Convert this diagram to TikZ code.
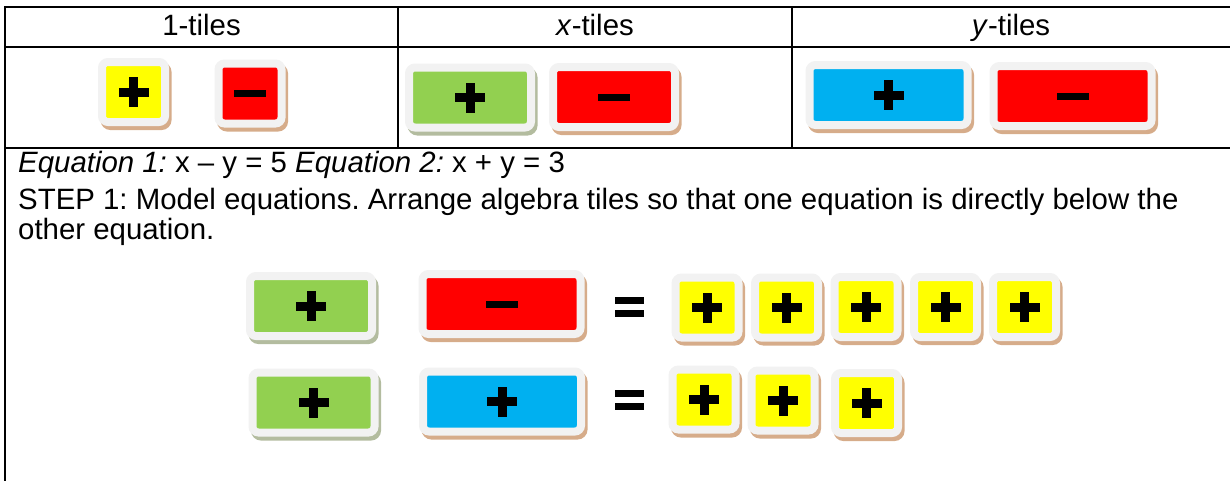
\documentclass[tikz,border=0pt]{standalone}
\usepackage{fontspec}
\setmainfont{Liberation Sans}
\usetikzlibrary{shadows}
\definecolor{tileyellow}{HTML}{FFFF00}
\definecolor{tilered}{HTML}{FF0000}
\definecolor{tilegreen}{HTML}{92D050}
\definecolor{tileblue}{HTML}{00B0F0}
\definecolor{tileedge}{HTML}{F2F2F2}
\definecolor{shadetan}{HTML}{D6AC8A}
\definecolor{shadegreen}{HTML}{B3BC9F}
\frenchspacing
\newcommand{\tplus}{\makebox[30pt]{\makebox[0pt]{\rule[-4.5pt]{30pt}{9pt}}\makebox[0pt]{\rule[-15pt]{9pt}{30pt}}}}
\newcommand{\tminus}{\rule[-3.5pt]{32pt}{7pt}}
\newcommand{\teq}{\vbox{\hrule width 29pt height 7pt\vskip 6pt\hrule width 29pt height 7pt}}
\begin{document}
\begin{tikzpicture}[x=1pt,y=-1pt,font=\fontsize{29.4}{33}\selectfont,
  grid/.style={line width=2pt},
  tile/.style={draw=tileedge,line width=8pt,rounded corners=6pt,inner sep=0pt,
    drop shadow={shadow xshift=2.5pt,shadow yshift=-4pt,opacity=1,fill=#1,draw=#1,line width=8pt}},
  tile/.default=shadetan,
  onesize/.style={minimum width=63pt,minimum height=60pt},
  xsize/.style={minimum width=122pt,minimum height=60pt},
  ysize/.style={minimum width=158pt,minimum height=60pt},
  txt/.style={anchor=base west,inner sep=0pt}]
  \useasboundingbox (0,0) rectangle (1230,480);
  % table
  \draw[grid] (5,7) -- (1232,7);
  \draw[grid] (5,47) -- (1232,47);
  \draw[grid] (5,148) -- (1232,148);
  \draw[grid] (5,6) -- (5,482);
  \draw[grid] (398,7) -- (398,148);
  \draw[grid] (792,7) -- (792,148);
  \node[anchor=base] (h1) at (201.5,35) {1-tiles};
  \node[anchor=base] (hx) at (595,35) {\textit{x}-tiles};
  \node[anchor=base] (hy) at (1011,35) {\textit{y}-tiles};
  % tile kinds
  \node[tile,onesize,fill=tileyellow] (one) at (133.5,92) {\tplus};
  \node[tile,onesize,fill=tilered] (negone) at (250,93.5) {\tminus};
  \node[tile=shadegreen,xsize,fill=tilegreen] (x) at (470,97.5) {\tplus};
  \node[tile,xsize,fill=tilered] (negx) at (614,97) {\tminus};
  \node[tile,ysize,fill=tileblue] (y) at (888.5,95) {\tplus};
  \node[tile,ysize,fill=tilered] (negy) at (1072.5,96) {\tminus};
  % equations
  \node[txt] (eqs) at (18,172) {\textit{Equation 1:} x – y = 5 \textit{Equation 2:} x + y = 3};
  \node[txt] (step) at (18,209) {STEP 1: Model equations. Arrange algebra tiles so that one equation is directly below the};
  \node[txt] (stepb) at (18,239) {other equation.};
  % x - y = 5
  \node[tile=shadegreen,xsize,fill=tilegreen] (ax) at (311,306) {\tplus};
  \node[tile,ysize,fill=tilered] (ay) at (501.5,304) {\tminus};
  \node[inner sep=0pt] (aeq) at (629.5,307) {\teq};
  \node[tile,onesize,fill=tileyellow] (a1) at (707,307.5) {\tplus};
  \node[tile,onesize,fill=tileyellow] (a2) at (786.5,307.5) {\tplus};
  \node[tile,onesize,fill=tileyellow] (a3) at (866,307) {\tplus};
  \node[tile,onesize,fill=tileyellow] (a4) at (945.5,307) {\tplus};
  \node[tile,onesize,fill=tileyellow] (a5) at (1024.5,307) {\tplus};
  % x + y = 3
  \node[tile=shadegreen,xsize,fill=tilegreen] (bx) at (313.5,402.5) {\tplus};
  \node[tile,ysize,fill=tileblue] (by) at (502,401.5) {\tplus};
  \node[inner sep=0pt] (beq) at (629.5,400) {\teq};
  \node[tile,onesize,fill=tileyellow] (b1) at (704,399.5) {\tplus};
  \node[tile,onesize,fill=tileyellow] (b2) at (783,400.5) {\tplus};
  \node[tile,onesize,fill=tileyellow] (b3) at (866.5,403) {\tplus};
\end{tikzpicture}
\end{document}
